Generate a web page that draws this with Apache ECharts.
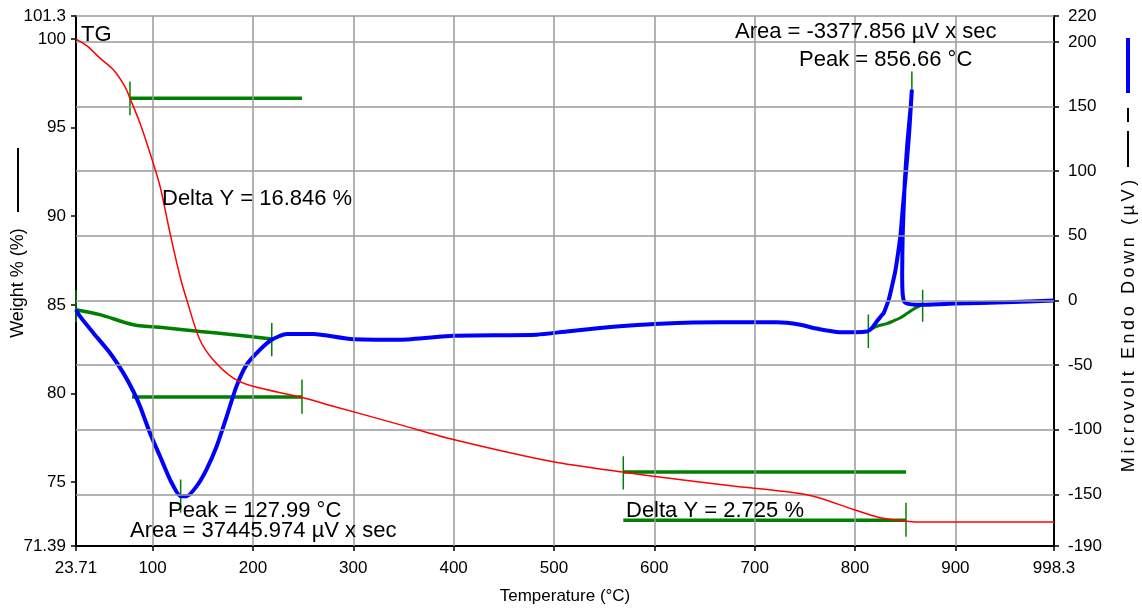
<!DOCTYPE html>
<html>
<head>
<meta charset="utf-8">
<script src="https://cdn.jsdelivr.net/npm/echarts@6/dist/echarts.min.js"></script>
<style>
html,body{margin:0;padding:0;background:#fff;}
#chart{width:1142px;height:610px;}
</style>
</head>
<body>
<div id="chart"></div>
<script>
// ---- tick labels ----
const xTicks = [23.71, 100, 200, 300, 400, 500, 600, 700, 800, 900, 998.3];
const xGrid = [100, 200, 300, 400, 500, 600, 700, 800, 900];
const leftTicks = [71.39, 75, 80, 85, 90, 95, 100, 101.3];
const rightTicks = [-190, -150, -100, -50, 0, 50, 100, 150, 200, 220];

// ---- TG curve (Weight %) ----
const tgTemp = [23.71, 35, 47.6, 61, 72.6, 77.5, 87.5, 97.5, 107.5, 117.4, 127.4, 134, 147, 160.3, 180.2, 200.1, 248, 280, 346.3, 399.7, 499.3, 569, 599, 678.6, 725, 758.5, 798.5, 825, 849.8, 860, 998.3];
const tgWeight = [100, 99.6, 98.92, 98.26, 97.3, 96.66, 95.25, 93.56, 91.68, 89.05, 86.6, 85.3, 83.04, 81.9, 80.88, 80.4, 79.78, 79.28, 78.24, 77.4, 76.14, 75.56, 75.33, 74.77, 74.5, 74.2, 73.45, 72.99, 72.8, 72.74, 72.74];

// ---- DSC curve (Microvolt) ----
const dscTemp = [23.71, 27.7, 41, 57.6, 70.8, 80.8, 87.5, 97.4, 107.4, 117.4, 127.99, 134, 144, 153.7, 163.9, 173.9, 183.6, 193.8, 207.1, 218.7, 233.7, 260.3, 297.1, 346.6, 399.7, 482.8, 512.7, 545.9, 572.5, 605.7, 665.5, 722, 745.5, 758.5, 785.3, 811.9, 816, 821.9, 826, 828.6, 831, 833.6, 836, 840, 843, 845.5, 848, 851, 854, 856.66, 855.5, 852, 849.5, 847.5, 847, 847.5, 849, 852, 860, 870, 900, 950, 998.3];
const dscSignal = [-7.2, -12.4, -25.2, -40.7, -56.1, -70.3, -81.9, -102.5, -120.6, -138.6, -151.5, -151.5, -143.7, -130.9, -112.8, -89.7, -66.5, -49.7, -38.1, -30.4, -26, -26, -29.8, -30.4, -27.3, -26.5, -24, -21.4, -19.6, -18, -17, -17, -18.8, -21.3, -24.7, -24, -22, -16.2, -12, -9.8, -5, 0.5, 8, 22, 37, 52, 75, 101, 130, 163, 150, 120, 90, 50, 20, 5, -1, -2.5, -3.3, -3.3, -2.5, -1.5, 0];

// ---- DSC baselines ----
const base1Temp = [23.71, 47.6, 80.9, 114.1, 147.4, 180.5, 218.8];
const base1Signal = [-7.2, -11, -18.8, -21.3, -24, -26.5, -29.8];
const base2Temp = [813.3, 822, 831.6, 838, 844.9, 852, 860, 867.4];
const base2Signal = [-23.2, -20, -18, -16, -13.6, -10, -6, -3.3];

// ---- TG step lines ----
const stepLevel = [96.66, 79.8, 75.56, 72.85];
const stepFrom = [77.5, 79.5, 569.1, 569.1];
const stepTo = [248.9, 248.9, 850.8, 850.8];

// ---- marker ticks ----
const tgMarkTemp = [77.5, 248.9, 569.1, 850.8];
const tgMarkLow = [95.7, 78.85, 74.58, 71.91];
const tgMarkHigh = [97.6, 80.78, 76.46, 73.83];
const dscMarkTemp = [23.71, 218.8, 127.99, 813.3, 867.4, 856.66];
const dscMarkLow = [-17, -43.3, -164.3, -36.8, -16.5, 148.7];
const dscMarkHigh = [8, -17.5, -138.6, -11, 8.3, 177];

const zip = (a, b) => a.map((v, i) => [v, b[i]]);
const GREEN = '#008000';
const FONT = '"Liberation Sans", Arial, sans-serif';
const spaced = s => s.split('').join('\u2009');

const series = [];
// grid lines
series.push({
  type: 'line', xAxisIndex: 0, yAxisIndex: 1, data: [], silent: true, z: 1,
  markLine: {
    silent: true, symbol: ['none', 'none'], label: {show: false}, animation: false,
    lineStyle: {color: '#9a9a9a', width: 1.5, type: 'solid'},
    data: xGrid.map(v => ({xAxis: v})).concat(rightTicks.filter(v => v !== -190).map(v => ({yAxis: v})))
  }
});
// green step lines
stepLevel.forEach((lv, i) => {
  series.push({type: 'line', yAxisIndex: 0, showSymbol: false, silent: true, z: 3,
    lineStyle: {color: GREEN, width: 3.5}, data: [[stepFrom[i], lv], [stepTo[i], lv]]});
});
tgMarkTemp.forEach((t, i) => {
  series.push({type: 'line', yAxisIndex: 0, showSymbol: false, silent: true, z: 3,
    lineStyle: {color: GREEN, width: 1.5}, data: [[t, tgMarkLow[i]], [t, tgMarkHigh[i]]]});
});
dscMarkTemp.forEach((t, i) => {
  series.push({type: 'line', yAxisIndex: 1, showSymbol: false, silent: true, z: 3,
    lineStyle: {color: GREEN, width: 1.5}, data: [[t, dscMarkLow[i]], [t, dscMarkHigh[i]]]});
});
series.push({type: 'line', yAxisIndex: 1, showSymbol: false, silent: true, z: 3, smooth: 0.3,
  lineStyle: {color: GREEN, width: 3.5}, data: zip(base1Temp, base1Signal)});
series.push({type: 'line', yAxisIndex: 1, showSymbol: false, silent: true, z: 3, smooth: 0.3,
  lineStyle: {color: GREEN, width: 3}, data: zip(base2Temp, base2Signal)});
// DSC blue
series.push({type: 'line', yAxisIndex: 1, showSymbol: false, silent: true, z: 4, smooth: 0.2,
  lineStyle: {color: '#0000ff', width: 4}, data: zip(dscTemp, dscSignal)});
// TG red
series.push({type: 'line', yAxisIndex: 0, showSymbol: false, silent: true, z: 5, smooth: 0.3,
  lineStyle: {color: '#ff0000', width: 1.5}, data: zip(tgTemp, tgWeight)});

const chart = echarts.init(document.getElementById('chart'), null, {renderer: 'canvas'});
const axisLabelStyle = {color: '#000', fontSize: 17, fontFamily: FONT};
const ANN = '22px ' + FONT;
chart.setOption({
  animation: false,
  backgroundColor: '#fff',
  grid: {left: 76, right: 88, top: 16, bottom: 63, containLabel: false},
  xAxis: {
    type: 'value', min: 23.71, max: 998.3,
    axisLine: {show: true, onZero: false, lineStyle: {color: '#000', width: 2}},
    axisTick: {show: true, length: 5, customValues: xTicks, lineStyle: {color: '#000', width: 1.5}},
    axisLabel: Object.assign({customValues: xTicks, margin: 14, formatter: v => String(v)}, axisLabelStyle),
    splitLine: {show: false},
    name: 'Temperature (°C)', nameLocation: 'middle', nameGap: 42,
    nameTextStyle: {color: '#000', fontSize: 17, fontFamily: FONT}
  },
  yAxis: [{
    type: 'value', position: 'left', min: 71.39, max: 101.3,
    axisLine: {show: true, onZero: false, lineStyle: {color: '#000', width: 2}},
    axisTick: {show: true, length: 5, customValues: leftTicks, lineStyle: {color: '#000', width: 1.5}},
    axisLabel: Object.assign({customValues: leftTicks, margin: 10, formatter: v => String(v)}, axisLabelStyle),
    splitLine: {show: false}
  }, {
    type: 'value', position: 'right', min: -190, max: 220,
    axisLine: {show: true, onZero: false, lineStyle: {color: '#000', width: 2}},
    axisTick: {show: true, length: 5, customValues: rightTicks, lineStyle: {color: '#000', width: 1.5}},
    axisLabel: Object.assign({customValues: rightTicks, margin: 14, formatter: v => String(v)}, axisLabelStyle),
    splitLine: {show: false}
  }],
  series: series,
  graphic: [
    {type: 'text', left: 81, top: 24, style: {text: 'TG', font: ANN, fill: '#000'}, z: 10},
    {type: 'text', left: 162, top: 188, style: {text: 'Delta Y = 16.846 %', font: ANN, fill: '#000'}, z: 10},
    {type: 'text', left: 168, top: 500, style: {text: 'Peak = 127.99 °C', font: ANN, fill: '#000'}, z: 10},
    {type: 'text', left: 130, top: 520, style: {text: 'Area = 37445.974 µV x sec', font: ANN, fill: '#000'}, z: 10},
    {type: 'text', left: 735, top: 21, style: {text: 'Area = -3377.856 µV x sec', font: ANN, fill: '#000'}, z: 10},
    {type: 'text', left: 799, top: 49, style: {text: 'Peak = 856.66 °C', font: ANN, fill: '#000'}, z: 10},
    {type: 'text', left: 626, top: 500, style: {text: 'Delta Y = 2.725 %', font: ANN, fill: '#000'}, z: 10},
    // left axis title with legend line
    {type: 'text', x: 18, y: 283, rotation: Math.PI / 2,
      style: {text: 'Weight % (%)', font: '18px ' + FONT, fill: '#000', align: 'center', verticalAlign: 'middle'}},
    {type: 'rect', shape: {x: 17, y: 148, width: 2, height: 64}, style: {fill: '#000'}},
    // right axis title with legend marks
    {type: 'text', x: 1129, y: 326, rotation: Math.PI / 2,
      style: {text: spaced('Microvolt Endo Down (µV)'), font: '18px ' + FONT, fill: '#000', align: 'center', verticalAlign: 'middle'}},
    {type: 'rect', shape: {x: 1126, y: 38, width: 4, height: 55}, style: {fill: '#0000ff'}},
    {type: 'rect', shape: {x: 1127, y: 108, width: 2, height: 14}, style: {fill: '#000'}},
    {type: 'rect', shape: {x: 1127, y: 131, width: 2, height: 36}, style: {fill: '#000'}}
  ]
});
</script>
</body>
</html>
